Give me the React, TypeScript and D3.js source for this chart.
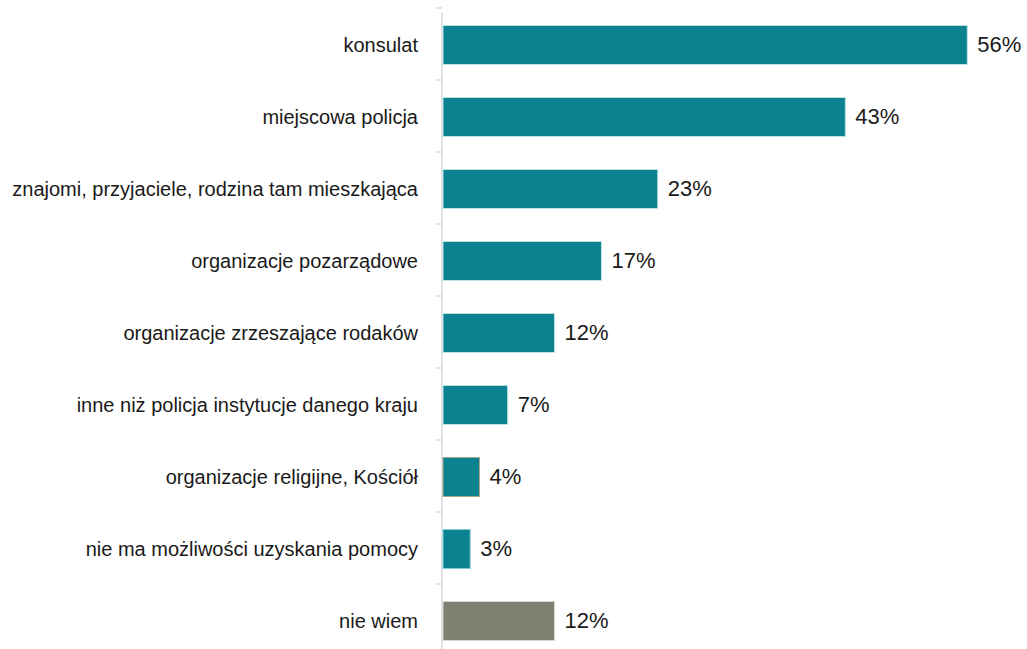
import React from "react";
import * as d3 from "d3";

const categories = [
  "konsulat",
  "miejscowa policja",
  "znajomi, przyjaciele, rodzina tam mieszkająca",
  "organizacje pozarządowe",
  "organizacje zrzeszające rodaków",
  "inne niż policja instytucje danego kraju",
  "organizacje religijne, Kościół",
  "nie ma możliwości uzyskania pomocy",
  "nie wiem",
];
const values = [56, 43, 23, 17, 12, 7, 4, 3, 12];
const fills = ["#0b8290", "#0b8290", "#0b8290", "#0b8290", "#0b8290", "#0b8290", "#0b8290", "#0b8290", "#7f7f72"];
const strokes = ["#bfe3e8", "#bfe3e8", "#bfe3e8", "#bfe3e8", "#bfe3e8", "#bfe3e8", "#a9a58f", "#7fcfd8", "#d9d9d0"];

export default function App() {
  const W = 1027, H = 649;
  const x0 = 442;
  const x = d3.scaleLinear().domain([0, 56]).range([x0, 967.3]);
  const y = d3.scaleBand<string>().domain(categories).range([8, 8 + 72 * categories.length]).paddingInner(33 / 72).paddingOuter(33 / 144);
  const ticks = d3.range(categories.length + 1).map((i) => 8 + 72 * i);
  return (
    <svg width={W} height={H} style={{ position: "absolute", left: 0, top: 0, background: "#fff" }}>
      <g fontFamily="'Liberation Sans', Arial, sans-serif">
        <line x1={x0} x2={x0} y1={13} y2={H} stroke="#d9d9d9" strokeWidth={1.5} />
        {ticks.map((t, i) => (
          <line key={i} x1={x0 - 6} x2={x0} y1={t} y2={t} stroke="#d9d9d9" strokeWidth={1.5} />
        ))}
        {categories.map((c, i) => {
          const yy = y(c)!;
          const bw = y.bandwidth();
          const cy = yy + bw / 2 + 0.5;
          return (
            <g key={c}>
              <rect x={x0 + 1} y={yy + 1} width={x(values[i]) - x0 - 1} height={bw} fill={fills[i]} stroke={strokes[i]} strokeWidth={1} />
              <text x={418} y={cy} textAnchor="end" dominantBaseline="central" fontSize={20} fill="#1a1a1a">{c}</text>
              <text x={x(values[i]) + 10} y={cy} dominantBaseline="central" fontSize={22} fill="#1a1a1a">{values[i]}%</text>
            </g>
          );
        })}
      </g>
    </svg>
  );
}
